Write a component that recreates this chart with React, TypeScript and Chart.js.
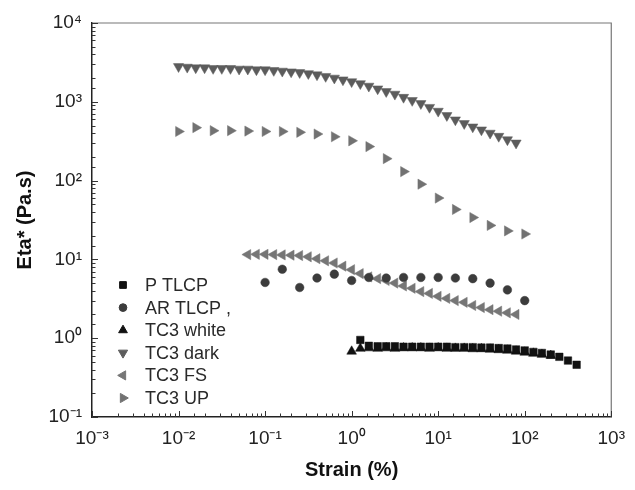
import React, { useEffect, useRef } from "react";
import { Chart, registerables } from "chart.js";
import { drawPoint } from "chart.js/helpers";

Chart.register(...registerables);

// ---------- data ----------
const pTlcpStrain = [1.26, 1.58, 2.0, 2.51, 3.16, 3.98, 5.01, 6.31, 7.94, 10, 12.6, 15.8, 20, 25.1, 31.6, 39.8, 50.1, 63.1, 79.4, 100, 126, 158, 200, 251, 316, 398];
const pTlcpEta = [0.95, 0.8, 0.79, 0.79, 0.79, 0.78, 0.78, 0.78, 0.78, 0.78, 0.78, 0.77, 0.77, 0.77, 0.76, 0.76, 0.75, 0.74, 0.72, 0.7, 0.67, 0.65, 0.62, 0.58, 0.52, 0.46];

const arTlcpStrain = [0.1, 0.158, 0.251, 0.398, 0.631, 1.0, 1.58, 2.51, 3.98, 6.31, 10, 15.8, 25.1, 39.8, 63.1, 100];
const arTlcpEta = [5.1, 7.5, 4.4, 5.8, 6.5, 5.4, 5.9, 5.8, 5.9, 5.9, 5.9, 5.8, 5.7, 5.0, 4.1, 3.0];

const whiteStrain = [1.0, 1.26, 1.58, 2.0, 2.51, 3.16, 3.98, 5.01, 6.31, 7.94, 10, 12.6, 15.8, 20, 25.1, 31.6, 39.8, 50.1, 63.1, 79.4, 100, 126, 158, 200];
const whiteEta = [0.68, 0.74, 0.75, 0.74, 0.75, 0.74, 0.75, 0.75, 0.75, 0.74, 0.75, 0.74, 0.74, 0.74, 0.73, 0.73, 0.72, 0.71, 0.7, 0.68, 0.66, 0.64, 0.62, 0.6];

const darkStrain = [0.01, 0.0126, 0.0158, 0.02, 0.0251, 0.0316, 0.0398, 0.0501, 0.0631, 0.0794, 0.1, 0.126, 0.158, 0.2, 0.251, 0.316, 0.398, 0.501, 0.631, 0.794, 1.0, 1.26, 1.58, 2.0, 2.51, 3.16, 3.98, 5.01, 6.31, 7.94, 10, 12.6, 15.8, 20, 25.1, 31.6, 39.8, 50.1, 63.1, 79.4];
const darkEta = [2800, 2750, 2700, 2700, 2650, 2650, 2650, 2600, 2600, 2550, 2550, 2500, 2450, 2400, 2350, 2280, 2200, 2100, 2000, 1900, 1800, 1700, 1580, 1460, 1350, 1250, 1140, 1040, 950, 850, 760, 670, 590, 530, 480, 440, 400, 365, 330, 300];

const fsStrain = [0.0631, 0.0794, 0.1, 0.126, 0.158, 0.2, 0.251, 0.316, 0.398, 0.501, 0.631, 0.794, 1.0, 1.26, 1.58, 2.0, 2.51, 3.16, 3.98, 5.01, 6.31, 7.94, 10, 12.6, 15.8, 20, 25.1, 31.6, 39.8, 50.1, 63.1, 79.4];
const fsEta = [11.5, 11.6, 11.6, 11.5, 11.4, 11.3, 11.2, 10.8, 10.2, 9.6, 9.0, 8.2, 7.4, 6.6, 6.0, 5.7, 5.4, 5.0, 4.6, 4.3, 3.9, 3.7, 3.4, 3.2, 3.0, 2.85, 2.6, 2.45, 2.3, 2.2, 2.1, 2.0];

const upStrain = [0.01, 0.0158, 0.0251, 0.0398, 0.0631, 0.1, 0.158, 0.251, 0.398, 0.631, 1.0, 1.58, 2.51, 3.98, 6.31, 10, 15.8, 25.1, 39.8, 63.1, 100];
const upEta = [420, 470, 430, 430, 425, 420, 420, 410, 390, 360, 320, 270, 190, 130, 90, 60, 43, 34, 27, 23, 21];

const seriesLabels = ["P TLCP", "AR TLCP ,", "TC3 white", "TC3 dark", "TC3 FS", "TC3 UP"];
const xTitle = "Strain (%)";
const yTitle = "Eta* (Pa.s)";
const xMin = 1e-3;
const xMax = 1e3;
const yMin = 1e-1;
const yMax = 1e4;

const FONT = "'Liberation Sans', Arial, Helvetica, sans-serif";

const SUP: Record<string, string> = { "-": "\u207B", "0": "\u2070", "1": "\u00B9", "2": "\u00B2", "3": "\u00B3", "4": "\u2074", "5": "\u2075" };
const toSup = (n: number) => String(n).split("").map((c) => SUP[c] || c).join("");
const isDecade = (v: number) => {
  const e = Math.log10(v);
  return Math.abs(e - Math.round(e)) < 1e-6;
};
const decadeLabel = (v: number) => (isDecade(v) ? "10" + toSup(Math.round(Math.log10(v))) : "");

const zip = (xs: number[], ys: number[]) => xs.map((x, i) => ({ x, y: ys[i] }));

const framePlugin = {
  id: "frameTicks",
  beforeDatasetsDraw(chart: any) {
    const { ctx, chartArea } = chart;
    const { left, right, top, bottom } = chartArea;
    ctx.save();
    ctx.strokeStyle = "#777";
    ctx.lineWidth = 1.2;
    ctx.beginPath();
    ctx.moveTo(left, top);
    ctx.lineTo(right, top);
    ctx.lineTo(right, bottom);
    ctx.stroke();
    ctx.strokeStyle = "#333";
    ctx.lineWidth = 1;
    const xs = chart.scales.x;
    const ys = chart.scales.y;
    ctx.beginPath();
    xs.ticks.forEach((t: any) => {
      const p = Math.round(xs.getPixelForValue(t.value)) + 0.5;
      const len = isDecade(t.value) ? 6 : 3.5;
      ctx.moveTo(p, bottom);
      ctx.lineTo(p, bottom - len);
    });
    ys.ticks.forEach((t: any) => {
      const p = Math.round(ys.getPixelForValue(t.value)) + 0.5;
      const len = isDecade(t.value) ? 6 : 3.5;
      ctx.moveTo(left, p);
      ctx.lineTo(left + len, p);
    });
    ctx.stroke();
    ctx.restore();
  },
};

const legendPlugin = {
  id: "insideLegend",
  afterDatasetsDraw(chart: any) {
    const { ctx } = chart;
    const markerX = 123;
    const textX = 145;
    const startY = 285;
    const step = 22.6;
    ctx.save();
    ctx.font = `18px ${FONT}`;
    ctx.textBaseline = "middle";
    ctx.textAlign = "left";
    chart.data.datasets.forEach((ds: any, i: number) => {
      const y = startY + i * step;
      ctx.fillStyle = ds.backgroundColor;
      ctx.strokeStyle = ds.borderColor;
      drawPoint(ctx, { pointStyle: ds.pointStyle, rotation: ds.rotation || 0, radius: ds.pointRadius * 0.9, borderWidth: 0.5 }, markerX, y);
      ctx.fillStyle = "#2a2a2a";
      ctx.fillText(ds.label, textX, y + 1);
    });
    ctx.restore();
  },
};

export default function App() {
  const ref = useRef<HTMLCanvasElement>(null);

  useEffect(() => {
    document.body.style.margin = "0";
    const canvas = ref.current;
    if (!canvas) return;

    const mk = (label: string, data: any[], color: string, pointStyle: string, radius: number, rotation = 0) => ({
      label,
      data,
      backgroundColor: color,
      borderColor: color,
      pointStyle,
      pointRadius: radius,
      pointHoverRadius: radius,
      pointBorderWidth: 0.5,
      rotation,
      pointRotation: rotation,
      showLine: false,
    });

    const chart = new Chart(canvas, {
      type: "scatter",
      data: {
        datasets: [
          mk(seriesLabels[0], zip(pTlcpStrain, pTlcpEta), "#111111", "rect", 5.3),
          mk(seriesLabels[1], zip(arTlcpStrain, arTlcpEta), "#3c3c3c", "circle", 4.3),
          mk(seriesLabels[2], zip(whiteStrain, whiteEta), "#111111", "triangle", 5.6),
          mk(seriesLabels[3], zip(darkStrain, darkEta), "#5c5c5c", "triangle", 5.9, 180),
          mk(seriesLabels[4], zip(fsStrain, fsEta), "#767676", "triangle", 5.9, -90),
          mk(seriesLabels[5], zip(upStrain, upEta), "#727272", "triangle", 5.9, 90),
        ] as any,
      },
      options: {
        responsive: false,
        animation: false,
        devicePixelRatio: 1,
        layout: { padding: { top: 23, right: 14, left: 0, bottom: 0 } },
        plugins: {
          legend: { display: false },
          tooltip: { enabled: false },
        },
        scales: {
          x: {
            type: "logarithmic",
            min: xMin,
            max: xMax,
            position: "bottom",
            grid: { display: false, drawTicks: false },
            border: { display: true, color: "#222", width: 1.5 },
            ticks: {
              autoSkip: false,
              maxRotation: 0,
              padding: 10,
              color: "#222",
              font: { family: FONT, size: 19 },
              callback: (v: any) => decadeLabel(Number(v)),
            },
            title: {
              display: true,
              text: xTitle,
              color: "#111",
              font: { family: FONT, size: 20, weight: "bold" },
              padding: { top: 4, bottom: 8 },
            },
            afterFit: (s: any) => {
              s.height = 73;
            },
          },
          y: {
            type: "logarithmic",
            min: yMin,
            max: yMax,
            position: "left",
            grid: { display: false, drawTicks: false },
            border: { display: true, color: "#222", width: 1.5 },
            ticks: {
              autoSkip: false,
              padding: 10,
              color: "#222",
              font: { family: FONT, size: 19 },
              callback: (v: any) => decadeLabel(Number(v)),
            },
            title: {
              display: true,
              text: yTitle,
              color: "#111",
              font: { family: FONT, size: 20, weight: "bold" },
              padding: { top: 13, bottom: 4 },
            },
            afterFit: (s: any) => {
              s.width = 92;
            },
          },
        },
      } as any,
      plugins: [framePlugin, legendPlugin],
    });

    return () => chart.destroy();
  }, []);

  return (
    <div style={{ width: 635, height: 490, position: "relative", background: "#fff" }}>
      <canvas ref={ref} width={635} height={490} style={{ display: "block" }} />
    </div>
  );
}
